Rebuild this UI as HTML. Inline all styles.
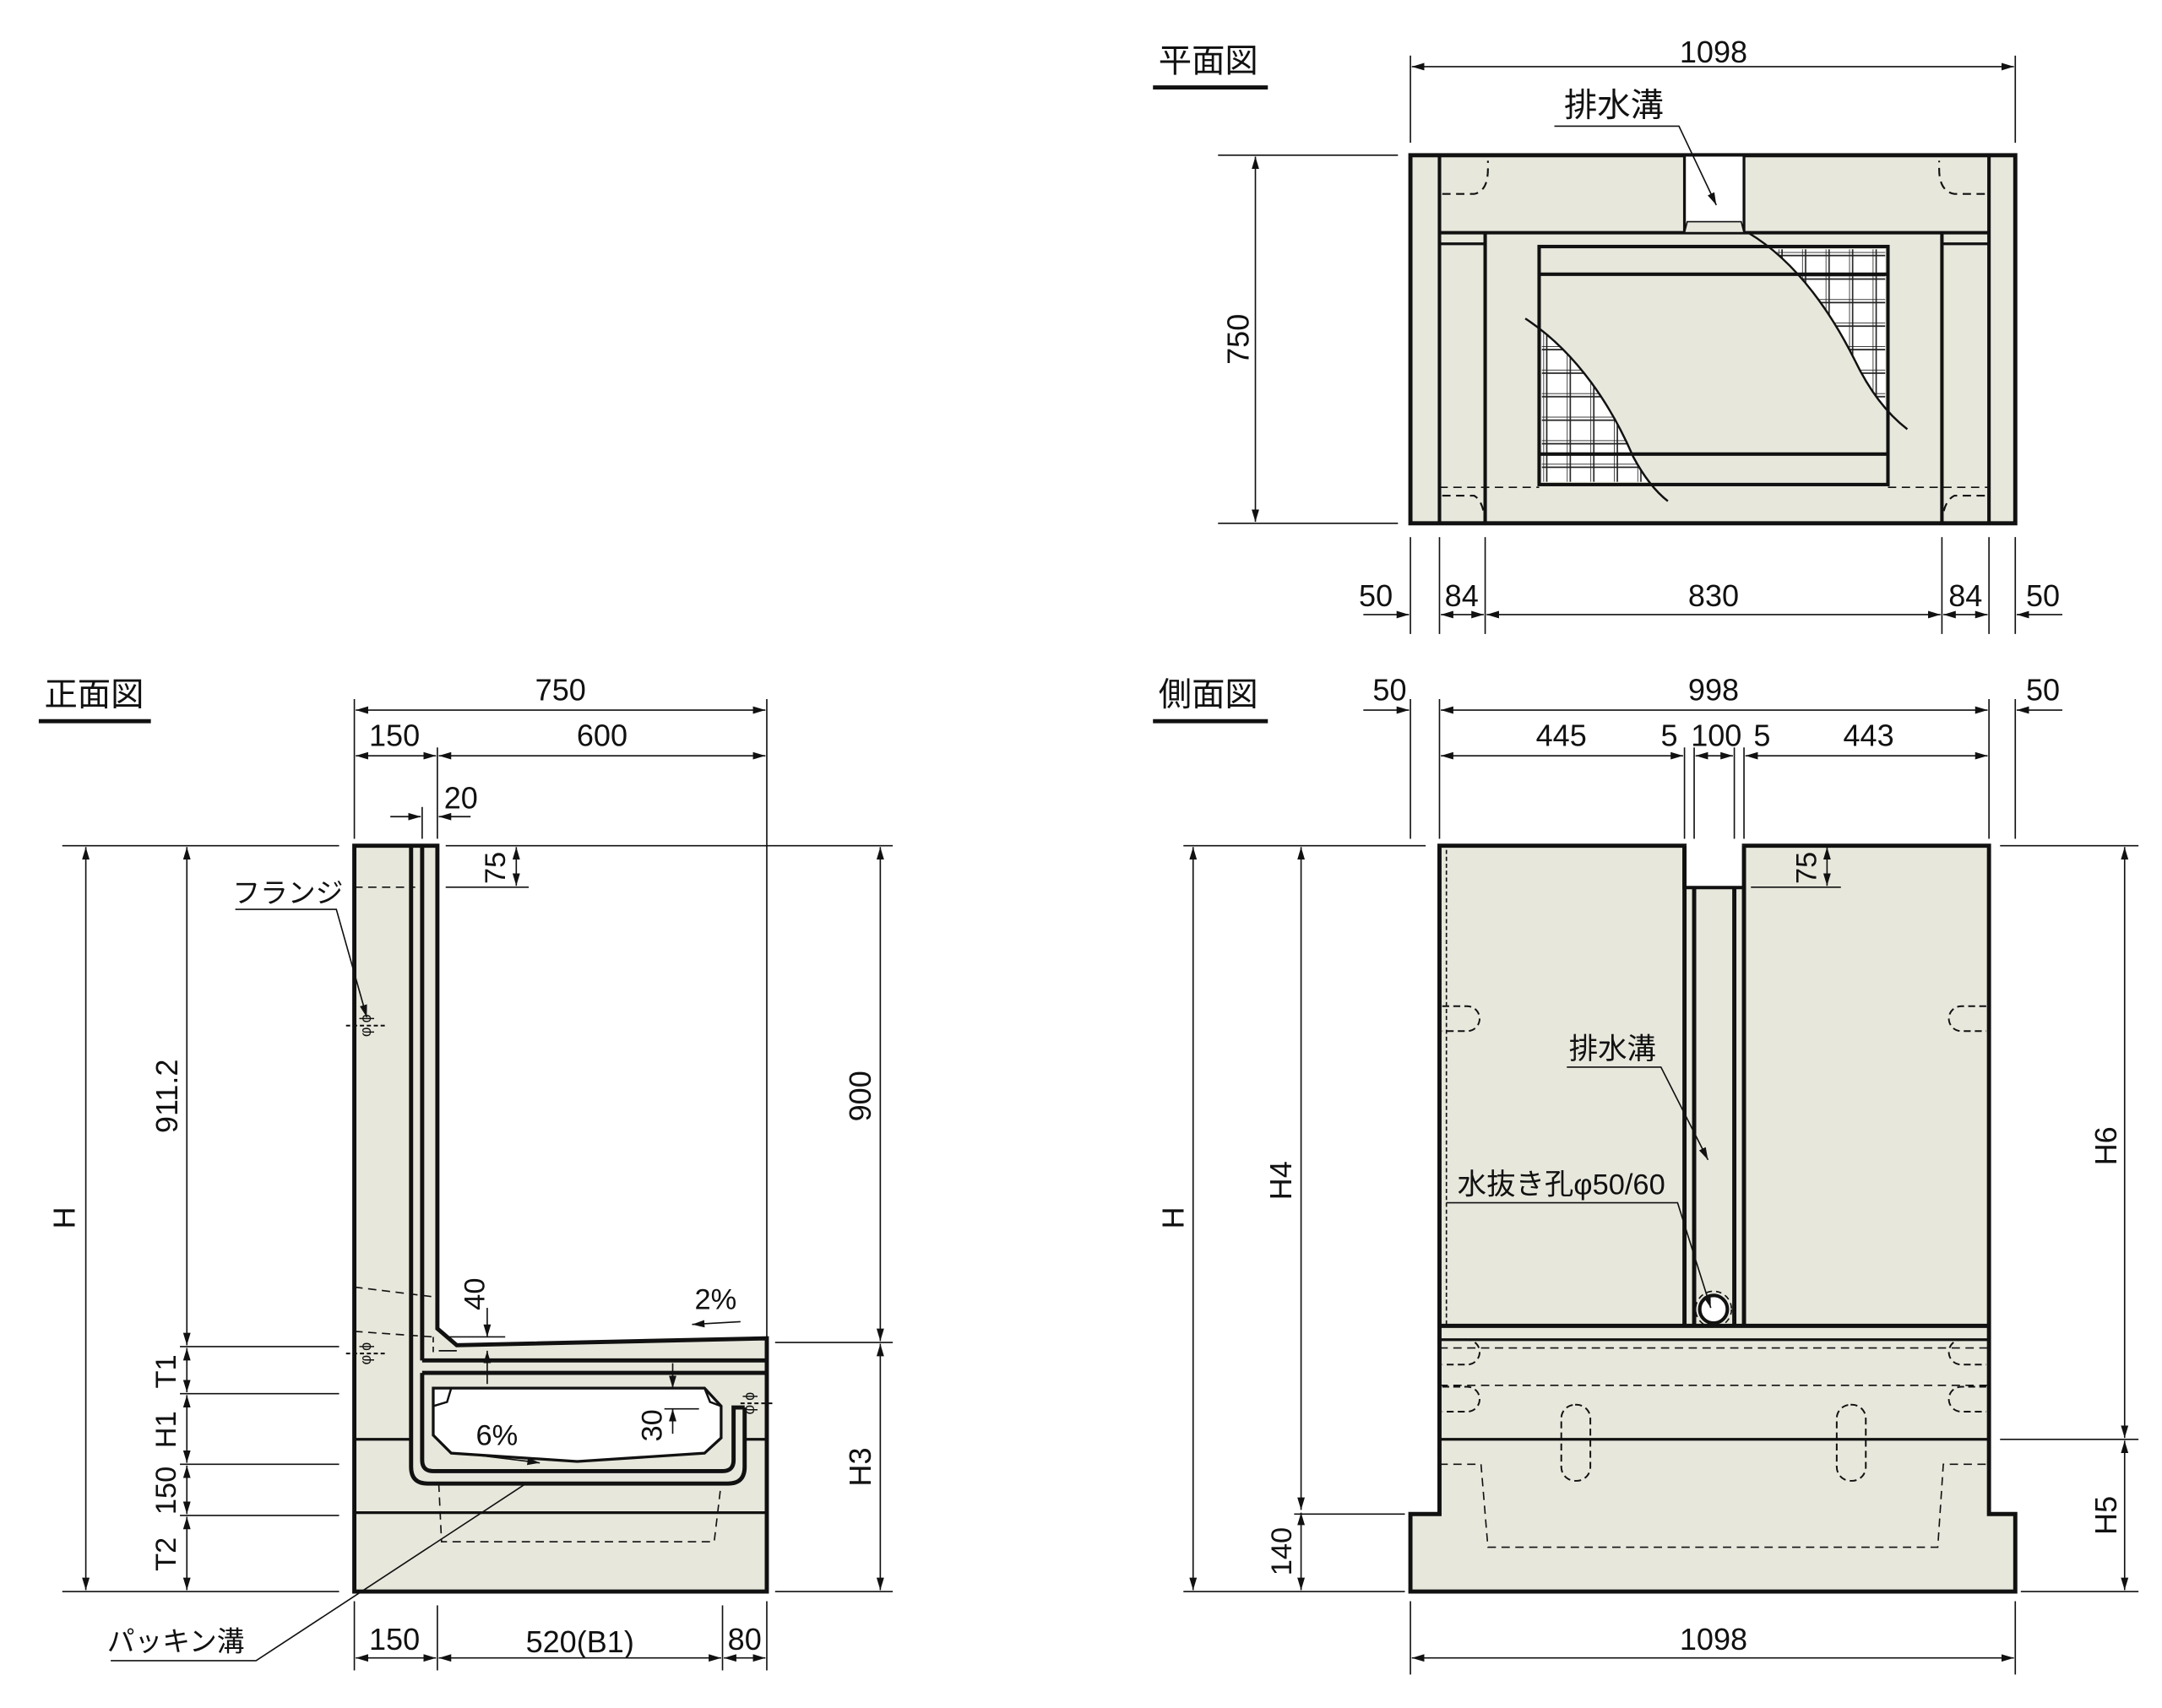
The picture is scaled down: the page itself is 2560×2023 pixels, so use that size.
<!DOCTYPE html>
<html><head><meta charset="utf-8"><style>
html,body{margin:0;padding:0;background:#fff;}
svg{display:block;}
text{font-family:"Liberation Sans","Noto Sans CJK JP",sans-serif;fill:#111;}
</style></head><body>
<svg width="2560" height="2023" viewBox="0 0 1562 1234" xmlns="http://www.w3.org/2000/svg">
<defs>
<marker id="a" viewBox="0 0 10 10" refX="10" refY="5" markerWidth="9" markerHeight="9" markerUnits="userSpaceOnUse" orient="auto-start-reverse"><path d="M0,2 L10,5 L0,8 Z" fill="#111"/></marker>
<clipPath id="cA"><path d="M1263,168 C1300,190 1325,230 1340,260 C1352,285 1365,300 1378,310 L1400,310 L1400,168 Z"/></clipPath>
<clipPath id="cB"><path d="M1102,230 C1140,255 1165,295 1180,330 C1188,345 1196,355 1205,362 L1100,362 Z"/></clipPath>
<pattern id="g" x="1115" y="182" width="17" height="17" patternUnits="userSpaceOnUse"><rect width="17" height="17" fill="#fff"/><path d="M0,0H17M0,0V17M0,2.5H17M2.5,0V17" stroke="#222" stroke-width="1" fill="none"/></pattern>
</defs>
<g fill="none" stroke="#111" stroke-width="1">

<!-- ================= PLAN VIEW ================= -->
<text x="873" y="52" font-size="24" text-anchor="middle" stroke="none">平面図</text>
<line x1="833" y1="63" x2="916" y2="63" stroke-width="3"/>
<rect x="1019" y="112" width="437" height="266" fill="#e7e7dc" stroke-width="3"/>
<g clip-path="url(#cA)"><rect x="1114" y="180" width="248" height="168" fill="url(#g)" stroke="none"/></g>
<g clip-path="url(#cB)"><rect x="1114" y="180" width="248" height="168" fill="url(#g)" stroke="none"/></g>
<line x1="1040" y1="112" x2="1040" y2="378" stroke-width="2.5"/>
<line x1="1437" y1="112" x2="1437" y2="378" stroke-width="2.5"/>
<line x1="1073" y1="168" x2="1073" y2="378" stroke-width="2.5"/>
<line x1="1403" y1="168" x2="1403" y2="378" stroke-width="2.5"/>
<line x1="1040" y1="168" x2="1437" y2="168" stroke-width="2.5"/>
<line x1="1040" y1="176" x2="1073" y2="176" stroke-width="2"/>
<line x1="1403" y1="176" x2="1437" y2="176" stroke-width="2"/>
<rect x="1217" y="112" width="43" height="56" fill="#fff" stroke-width="2"/>
<path d="M1219,160 H1258 L1260,168 H1217 Z" fill="#e7e7dc" stroke-width="1"/>
<rect x="1112" y="178" width="252" height="172" stroke-width="2.5"/>
<line x1="1112" y1="198" x2="1364" y2="198" stroke-width="2.5"/>
<line x1="1112" y1="328" x2="1364" y2="328" stroke-width="2.5"/>
<path d="M1263,168 C1300,190 1325,230 1340,260 C1352,285 1365,300 1378,310" stroke-width="1.5"/>
<path d="M1102,230 C1140,255 1165,295 1180,330 C1188,345 1196,355 1205,362" stroke-width="1.5"/>
<line x1="1040" y1="352" x2="1112" y2="352" stroke-dasharray="6,4"/>
<line x1="1364" y1="352" x2="1437" y2="352" stroke-dasharray="6,4"/>
<path d="M1042,140 H1065 Q1075,138 1075,122 V116" stroke-dasharray="6,4" stroke-width="1.3"/>
<path d="M1434,140 H1412 Q1401,138 1401,122 V116" stroke-dasharray="6,4" stroke-width="1.3"/>
<path d="M1042,358 H1065 Q1072,362 1073,378" stroke-dasharray="6,4" stroke-width="1.3"/>
<path d="M1434,358 H1412 Q1404,362 1403,378" stroke-dasharray="6,4" stroke-width="1.3"/>
<line x1="1019" y1="40" x2="1019" y2="103"/><line x1="1456" y1="40" x2="1456" y2="103"/>
<line x1="1020" y1="48" x2="1455" y2="48" marker-start="url(#a)" marker-end="url(#a)"/>
<text x="1238" y="45" font-size="22" text-anchor="middle" stroke="none">1098</text>
<line x1="880" y1="112" x2="1010" y2="112"/><line x1="880" y1="378" x2="1010" y2="378"/>
<line x1="907" y1="113" x2="907" y2="377" marker-start="url(#a)" marker-end="url(#a)"/>
<text transform="translate(902,245) rotate(-90)" font-size="22" text-anchor="middle" stroke="none">750</text>
<line x1="1019" y1="388" x2="1019" y2="458"/><line x1="1040" y1="388" x2="1040" y2="458"/>
<line x1="1073" y1="388" x2="1073" y2="458"/><line x1="1403" y1="388" x2="1403" y2="458"/>
<line x1="1437" y1="388" x2="1437" y2="458"/><line x1="1456" y1="388" x2="1456" y2="458"/>
<line x1="985" y1="444" x2="1018" y2="444" marker-end="url(#a)"/>
<line x1="1041" y1="444" x2="1072" y2="444" marker-start="url(#a)" marker-end="url(#a)"/>
<line x1="1074" y1="444" x2="1402" y2="444" marker-start="url(#a)" marker-end="url(#a)"/>
<line x1="1404" y1="444" x2="1436" y2="444" marker-start="url(#a)" marker-end="url(#a)"/>
<line x1="1490" y1="444" x2="1457" y2="444" marker-end="url(#a)"/>
<text x="994" y="438" font-size="22" text-anchor="middle" stroke="none">50</text>
<text x="1056" y="438" font-size="22" text-anchor="middle" stroke="none">84</text>
<text x="1238" y="438" font-size="22" text-anchor="middle" stroke="none">830</text>
<text x="1420" y="438" font-size="22" text-anchor="middle" stroke="none">84</text>
<text x="1476" y="438" font-size="22" text-anchor="middle" stroke="none">50</text>
<text x="1166" y="84" font-size="24" text-anchor="middle" stroke="none">排水溝</text>
<polyline points="1123,91 1213,91 1240,148" marker-end="url(#a)"/>

<!-- ================= FRONT VIEW ================= -->
<text x="68" y="510" font-size="24" text-anchor="middle" stroke="none">正面図</text>
<line x1="28" y1="521" x2="109" y2="521" stroke-width="3"/>
<path d="M256,611 H316 V960 L330,972 L554,967 V1150 H256 Z" fill="#e7e7dc" stroke-width="3"/>
<path d="M313,1003 H509 L521,1016 V1039 L509,1050 L417,1056 L326,1050 L313,1037 V1016 Z" fill="#fff" stroke-width="2"/>
<path d="M326,1003 L323,1013 L313,1016 M509,1003 L513,1013 L521,1016" stroke-width="1.5"/>
<line x1="305" y1="983" x2="554" y2="983" stroke-width="3"/>
<path d="M305,611 V983" stroke-width="3"/>
<path d="M297,611 V1060 Q297,1072 309,1072 H526 Q538,1072 538,1060 V1017" stroke-width="3"/>
<path d="M305,992 H554" stroke-width="3"/>
<path d="M305,992 V1055 Q305,1063 313,1063 H522 Q530,1063 530,1055 V1017 H538" stroke-width="3"/>
<line x1="256" y1="1040" x2="297" y2="1040" stroke-width="2"/>
<line x1="538" y1="1040" x2="554" y2="1040" stroke-width="2"/>
<line x1="256" y1="1093" x2="554" y2="1093" stroke-width="2"/>
<line x1="256" y1="641" x2="300" y2="641" stroke-dasharray="6,4"/>
<line x1="256" y1="930" x2="313" y2="937" stroke-dasharray="6,4"/>
<line x1="256" y1="962" x2="313" y2="966" stroke-dasharray="6,4"/>
<path d="M317,1072 L319,1114 H516 L521,1072" stroke-dasharray="6,4"/>
<line x1="313" y1="966" x2="313" y2="980" stroke-dasharray="4,3"/>
<line x1="317" y1="976" x2="330" y2="976"/>
<g stroke-width="1.2" stroke-dasharray="3,2"><line x1="250" y1="741" x2="280" y2="741"/><line x1="250" y1="978" x2="280" y2="978"/><line x1="535" y1="1014" x2="560" y2="1014"/></g>
<text transform="translate(268,741) rotate(-90)" font-size="11" text-anchor="middle" stroke="none">φ ϕ</text>
<text transform="translate(268,978) rotate(-90)" font-size="11" text-anchor="middle" stroke="none">φ ϕ</text>
<text transform="translate(545,1014) rotate(-90)" font-size="11" text-anchor="middle" stroke="none">φ ϕ</text>
<line x1="256" y1="505" x2="256" y2="606"/><line x1="554" y1="505" x2="554" y2="967"/>
<line x1="316" y1="540" x2="316" y2="606"/><line x1="305" y1="583" x2="305" y2="606"/>
<line x1="257" y1="513" x2="553" y2="513" marker-start="url(#a)" marker-end="url(#a)"/>
<text x="405" y="506" font-size="22" text-anchor="middle" stroke="none">750</text>
<line x1="257" y1="546" x2="315" y2="546" marker-start="url(#a)" marker-end="url(#a)"/>
<line x1="317" y1="546" x2="553" y2="546" marker-start="url(#a)" marker-end="url(#a)"/>
<text x="285" y="539" font-size="22" text-anchor="middle" stroke="none">150</text>
<text x="435" y="539" font-size="22" text-anchor="middle" stroke="none">600</text>
<line x1="282" y1="590" x2="304" y2="590" marker-end="url(#a)"/>
<line x1="340" y1="590" x2="317" y2="590" marker-end="url(#a)"/>
<text x="333" y="584" font-size="22" text-anchor="middle" stroke="none">20</text>
<line x1="45" y1="611" x2="245" y2="611"/><line x1="322" y1="611" x2="645" y2="611"/>
<line x1="322" y1="641" x2="382" y2="641"/>
<line x1="373" y1="612" x2="373" y2="640" marker-start="url(#a)" marker-end="url(#a)"/>
<text transform="translate(365,627) rotate(-90)" font-size="21" text-anchor="middle" stroke="none">75</text>
<line x1="62" y1="612" x2="62" y2="1149" marker-start="url(#a)" marker-end="url(#a)"/>
<text transform="translate(54,880) rotate(-90)" font-size="22" text-anchor="middle" stroke="none">H</text>
<line x1="135" y1="612" x2="135" y2="972" marker-start="url(#a)" marker-end="url(#a)"/>
<text transform="translate(128,792) rotate(-90)" font-size="22" text-anchor="middle" stroke="none">911.2</text>
<line x1="130" y1="973" x2="245" y2="973"/><line x1="45" y1="1150" x2="245" y2="1150"/>
<line x1="130" y1="1007" x2="245" y2="1007"/><line x1="130" y1="1058" x2="245" y2="1058"/><line x1="130" y1="1095" x2="245" y2="1095"/>
<line x1="135" y1="974" x2="135" y2="1006" marker-start="url(#a)" marker-end="url(#a)"/>
<line x1="135" y1="1008" x2="135" y2="1057" marker-start="url(#a)" marker-end="url(#a)"/>
<line x1="135" y1="1059" x2="135" y2="1094" marker-start="url(#a)" marker-end="url(#a)"/>
<line x1="135" y1="1096" x2="135" y2="1149" marker-start="url(#a)" marker-end="url(#a)"/>
<text transform="translate(127,991) rotate(-90)" font-size="21" text-anchor="middle" stroke="none">T1</text>
<text transform="translate(127,1033) rotate(-90)" font-size="21" text-anchor="middle" stroke="none">H1</text>
<text transform="translate(127,1077) rotate(-90)" font-size="21" text-anchor="middle" stroke="none">150</text>
<text transform="translate(127,1123) rotate(-90)" font-size="21" text-anchor="middle" stroke="none">T2</text>
<line x1="560" y1="970" x2="645" y2="970"/><line x1="560" y1="1150" x2="645" y2="1150"/>
<line x1="636" y1="612" x2="636" y2="969" marker-start="url(#a)" marker-end="url(#a)"/>
<line x1="636" y1="971" x2="636" y2="1149" marker-start="url(#a)" marker-end="url(#a)"/>
<text transform="translate(629,792) rotate(-90)" font-size="22" text-anchor="middle" stroke="none">900</text>
<text transform="translate(629,1060) rotate(-90)" font-size="22" text-anchor="middle" stroke="none">H3</text>
<line x1="256" y1="1157" x2="256" y2="1207"/><line x1="316" y1="1160" x2="316" y2="1207"/>
<line x1="522" y1="1160" x2="522" y2="1207"/><line x1="554" y1="1157" x2="554" y2="1207"/>
<line x1="257" y1="1198" x2="315" y2="1198" marker-start="url(#a)" marker-end="url(#a)"/>
<line x1="317" y1="1198" x2="521" y2="1198" marker-start="url(#a)" marker-end="url(#a)"/>
<line x1="523" y1="1198" x2="553" y2="1198" marker-start="url(#a)" marker-end="url(#a)"/>
<text x="285" y="1192" font-size="22" text-anchor="middle" stroke="none">150</text>
<text x="419" y="1194" font-size="22" text-anchor="middle" stroke="none">520(B1)</text>
<text x="538" y="1192" font-size="22" text-anchor="middle" stroke="none">80</text>
<line x1="322" y1="966" x2="365" y2="966"/>
<line x1="352" y1="945" x2="352" y2="966" marker-end="url(#a)"/>
<line x1="352" y1="1000" x2="352" y2="976" marker-end="url(#a)"/>
<text transform="translate(350,935) rotate(-90)" font-size="21" text-anchor="middle" stroke="none">40</text>
<text x="517" y="946" font-size="21" text-anchor="middle" stroke="none">2%</text>
<line x1="535" y1="955" x2="500" y2="957" marker-end="url(#a)"/>
<text x="359" y="1044" font-size="21" text-anchor="middle" stroke="none">6%</text>
<line x1="333" y1="1050" x2="390" y2="1057" marker-end="url(#a)"/>
<line x1="480" y1="1018" x2="505" y2="1018"/>
<line x1="486" y1="985" x2="486" y2="1003" marker-end="url(#a)"/>
<line x1="486" y1="1036" x2="486" y2="1018" marker-end="url(#a)"/>
<text transform="translate(478,1030) rotate(-90)" font-size="21" text-anchor="middle" stroke="none">30</text>
<text x="208" y="652" font-size="20" text-anchor="middle" stroke="none">フランジ</text>
<polyline points="170,657 243,657 265,735" marker-end="url(#a)"/>
<text x="127" y="1193" font-size="20" text-anchor="middle" stroke="none">パッキン溝</text>
<polyline points="80,1200 185,1200 380,1072"/>

<!-- ================= SIDE VIEW ================= -->
<text x="873" y="510" font-size="24" text-anchor="middle" stroke="none">側面図</text>
<line x1="833" y1="521" x2="916" y2="521" stroke-width="3"/>
<path d="M1040,611 H1217 V641 H1260 V611 H1437 V1094 H1456 V1150 H1019 V1094 H1040 Z" fill="#e7e7dc" stroke-width="3"/>
<rect x="1217" y="611" width="43" height="30" fill="#fff" stroke="none"/>
<line x1="1217" y1="611" x2="1217" y2="958" stroke-width="3"/>
<line x1="1260" y1="611" x2="1260" y2="958" stroke-width="3"/>
<line x1="1224" y1="641" x2="1224" y2="958" stroke-width="3"/>
<line x1="1253" y1="641" x2="1253" y2="958" stroke-width="3"/>
<line x1="1217" y1="641" x2="1260" y2="641" stroke-width="2"/>
<line x1="1040" y1="958" x2="1437" y2="958" stroke-width="3"/>
<line x1="1040" y1="968" x2="1437" y2="968" stroke-width="2"/>
<line x1="1040" y1="974" x2="1437" y2="974" stroke-dasharray="6,4"/>
<line x1="1040" y1="1001" x2="1437" y2="1001" stroke-dasharray="6,4"/>
<line x1="1040" y1="1040" x2="1437" y2="1040" stroke-width="2"/>
<line x1="1045" y1="614" x2="1045" y2="958" stroke-dasharray="3,2"/>
<path d="M1040,1058 H1070 L1075,1118 H1400 L1404,1058 H1437" stroke-dasharray="6,4"/>
<circle cx="1238" cy="946" r="10" fill="#fff" stroke-width="2.5"/>
<circle cx="1238" cy="946" r="13" stroke-dasharray="4,3"/>
<g stroke-dasharray="5,3" stroke-width="1.2">
<path d="M1042,727 H1060 A9,9 0 0 1 1060,745 H1042"/>
<path d="M1435,727 H1417 A9,9 0 0 0 1417,745 H1435"/>
<path d="M1042,968 H1060 A9,9 0 0 1 1060,986 H1042"/>
<path d="M1435,968 H1417 A9,9 0 0 0 1417,986 H1435"/>
<path d="M1042,1002 H1060 A9,9 0 0 1 1060,1020 H1042"/>
<path d="M1435,1002 H1417 A9,9 0 0 0 1417,1020 H1435"/>
<rect x="1128" y="1015" width="21" height="55" rx="10"/>
<rect x="1327" y="1015" width="21" height="55" rx="10"/>
</g>
<line x1="1019" y1="505" x2="1019" y2="606"/><line x1="1040" y1="505" x2="1040" y2="606"/>
<line x1="1437" y1="505" x2="1437" y2="606"/><line x1="1456" y1="505" x2="1456" y2="606"/>
<line x1="1217" y1="540" x2="1217" y2="606"/><line x1="1260" y1="540" x2="1260" y2="606"/>
<line x1="1224" y1="540" x2="1224" y2="606"/><line x1="1253" y1="540" x2="1253" y2="606"/>
<line x1="985" y1="513" x2="1018" y2="513" marker-end="url(#a)"/>
<line x1="1041" y1="513" x2="1436" y2="513" marker-start="url(#a)" marker-end="url(#a)"/>
<line x1="1490" y1="513" x2="1457" y2="513" marker-end="url(#a)"/>
<text x="1004" y="506" font-size="22" text-anchor="middle" stroke="none">50</text>
<text x="1238" y="506" font-size="22" text-anchor="middle" stroke="none">998</text>
<text x="1476" y="506" font-size="22" text-anchor="middle" stroke="none">50</text>
<line x1="1041" y1="546" x2="1216" y2="546" marker-start="url(#a)" marker-end="url(#a)"/>
<line x1="1225" y1="546" x2="1252" y2="546" marker-start="url(#a)" marker-end="url(#a)"/>
<line x1="1261" y1="546" x2="1436" y2="546" marker-start="url(#a)" marker-end="url(#a)"/>
<text x="1128" y="539" font-size="22" text-anchor="middle" stroke="none">445</text>
<text x="1206" y="539" font-size="22" text-anchor="middle" stroke="none">5</text>
<text x="1240" y="539" font-size="22" text-anchor="middle" stroke="none">100</text>
<text x="1273" y="539" font-size="22" text-anchor="middle" stroke="none">5</text>
<text x="1350" y="539" font-size="22" text-anchor="middle" stroke="none">443</text>
<line x1="855" y1="611" x2="1030" y2="611"/><line x1="1445" y1="611" x2="1545" y2="611"/>
<line x1="1265" y1="641" x2="1330" y2="641"/>
<line x1="1320" y1="612" x2="1320" y2="640" marker-start="url(#a)" marker-end="url(#a)"/>
<text transform="translate(1312,627) rotate(-90)" font-size="21" text-anchor="middle" stroke="none">75</text>
<line x1="862" y1="612" x2="862" y2="1149" marker-start="url(#a)" marker-end="url(#a)"/>
<text transform="translate(855,880) rotate(-90)" font-size="22" text-anchor="middle" stroke="none">H</text>
<line x1="940" y1="612" x2="940" y2="1091" marker-start="url(#a)" marker-end="url(#a)"/>
<line x1="940" y1="1093" x2="940" y2="1149" marker-start="url(#a)" marker-end="url(#a)"/>
<text transform="translate(933,853) rotate(-90)" font-size="22" text-anchor="middle" stroke="none">H4</text>
<text transform="translate(933,1121) rotate(-90)" font-size="21" text-anchor="middle" stroke="none">140</text>
<line x1="935" y1="1094" x2="1015" y2="1094"/><line x1="855" y1="1150" x2="1015" y2="1150"/>
<line x1="1445" y1="1040" x2="1545" y2="1040"/><line x1="1460" y1="1150" x2="1545" y2="1150"/>
<line x1="1535" y1="612" x2="1535" y2="1039" marker-start="url(#a)" marker-end="url(#a)"/>
<line x1="1535" y1="1041" x2="1535" y2="1149" marker-start="url(#a)" marker-end="url(#a)"/>
<text transform="translate(1529,828) rotate(-90)" font-size="22" text-anchor="middle" stroke="none">H6</text>
<text transform="translate(1529,1095) rotate(-90)" font-size="22" text-anchor="middle" stroke="none">H5</text>
<line x1="1019" y1="1157" x2="1019" y2="1210"/><line x1="1456" y1="1157" x2="1456" y2="1210"/>
<line x1="1020" y1="1198" x2="1455" y2="1198" marker-start="url(#a)" marker-end="url(#a)"/>
<text x="1238" y="1192" font-size="22" text-anchor="middle" stroke="none">1098</text>
<text x="1165" y="765" font-size="21" text-anchor="middle" stroke="none">排水溝</text>
<polyline points="1132,771 1200,771 1234,838" marker-end="url(#a)"/>
<text x="1128" y="863" font-size="21" text-anchor="middle" stroke="none">水抜き孔φ50/60</text>
<polyline points="1045,869 1212,869 1236,945" marker-end="url(#a)"/>
</g>
</svg>
</body></html>
